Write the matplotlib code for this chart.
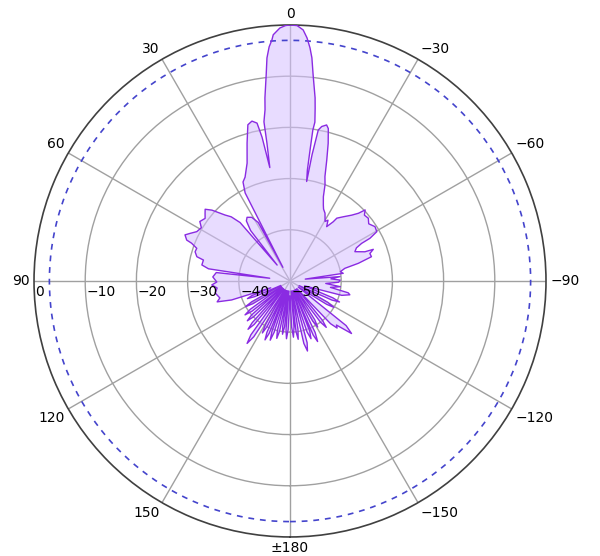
import numpy as np
import matplotlib.pyplot as plt

# measured pattern, angle in degrees (positive = counter-clockwise from top), gain in dB
angle_deg = [
    -180, -178, -176.5, -175, -174, -173.2, -172, -170.6, -169, -167.5, -166,
    -164.5, -163, -161.5, -160, -158.5, -157.5, -156.8, -155.5, -154, -152,
    -150.5, -149, -147.5, -145.5, -143.5, -142, -140.5, -138.5, -136.5, -135,
    -133.5, -130.5, -128.5, -126.5, -122.5, -121, -119.5, -117, -114.5, -113,
    -111.5, -108.5, -105.5, -103,
    -101.5, -99, -96.5, -94, -91.5, -89, -87, -85, -83, -81.8,
    -79.5, -77, -75.5, -73.4, -71, -69.2, -68.7, -65.7, -63.5, -62.3, -61.9,
    -60.4, -57.4, -54, -51.3, -48.5, -46.6, -45.3, -43.1, -39.7, -36.7, -36.1,
    -34, -32, -30.5, -27.3, -25, -23.7, -21.6, -20, -18.5, -16.9, -15.5, -14.1,
    -13.2, -11.6, -10.6, -9.9, -9.5, -8.9, -8.7, -8.6, -8.9, -8.3, -7.8, -6.4,
    -5.6, -4.9, -4.0, -3.0, -1.6, 0, 1, 2.3, 3.9, 4.3, 5.1, 5.9, 6.6, 7.8, 8.3,
    9.3, 9.5, 9.9, 10.1, 11.0, 11.8, 13.4, 15.1, 17.3, 20, 23.4, 25.4, 27.0,
    27.6, 28.5, 31, 34, 36, 38, 39, 40.5, 42.5, 44.6, 47.8, 49.8, 51.5, 53.6,
    56.6, 59, 62.1, 64.5, 66.3, 68.4, 69.0, 70.7, 72.9, 75.4, 76.4, 79.7, 81.5,
    82.3, 83.5, 87, 90.8, 92.9, 95.5, 99.1, 103.6, 106, 108, 109.5, 111, 112.5,
    114, 116, 118.5, 120, 121.5, 123.5, 125.5, 127, 128.5, 130, 131.5, 133,
    134.5, 136, 137.8, 139, 140.5, 142, 144, 145.5, 147, 149, 150.7, 152,
    153.3, 154.7, 155.8, 157, 158.3, 159.3, 160.3, 161.5, 162.8, 164.3, 165.7,
    167, 168.3, 169.8, 170.8, 172, 173.2, 174.3, 175.3, 176.5, 177.8, 180,
]
gain_db = [
    -47, -41, -39, -41, -48, -40, -38.5, -40.5, -48, -37.5, -35.9,
    -37.5, -48, -39.5, -38, -39.5, -48, -38.5, -37, -38.8, -48,
    -41, -39.5, -41, -48, -40, -38.5, -40, -48, -38.5, -37,
    -37.5, -34.2, -36, -48, -41.5, -40, -41.5, -48, -41, -39.5,
    -41, -47, -39.5, -38,
    -38.4, -42, -40.1, -43, -40.5, -40.2, -42, -40.2, -47, -39.5,
    -40, -39, -36.2, -33.4, -33.5, -32.6, -34.3, -36.1, -35.5, -34.2, -32.3,
    -30.5, -30.3, -31, -30.4, -30.6, -29.8, -31.2, -32.4, -33.7, -34.7, -35.7,
    -37.2, -36, -36.5, -35.1, -34.5, -33.8, -32.3, -30, -28.5, -25.3, -22.1, -19.3,
    -18.7, -19.2, -20, -25, -30.3, -28.1, -24.1, -20.2, -18.6, -16, -13.9, -9.5,
    -6.2, -4.3, -2.4, -0.9, -0.1, 0, -0.1, -0.55, -1.8, -2.8, -4.1, -6.2, -9.5, -13.9, -16.2,
    -18.5, -22.7, -26, -27.5, -21.4, -18.5, -17.9, -18.4, -21.8, -25.5, -27.9, -28.6, -30.7,
    -47, -37, -35.5, -35, -35.5, -37.5, -46, -35, -33, -31.9, -29.4, -28.3, -28.8, -29.4,
    -28.9, -29.8, -29.4, -28.4, -27.6, -28.3, -29.4, -30.7, -30.6, -31.2, -32.6, -32.5, -33.9,
    -46, -35.5, -34.9, -35.7, -34.7, -35.7, -35.2, -35.9, -35.2, -38, -46, -42, -41,
    -42.5, -48, -41.5, -40, -41.5, -48, -40.5, -39, -40.5, -48, -40, -38.6,
    -40, -48, -39, -37.5, -39, -48, -37, -35.2, -37, -48, -40, -38.5,
    -40, -48, -39, -37.5, -39, -48, -39.5, -37.8, -39.5, -48, -40,
    -38.5, -40, -48, -41, -39.5, -41, -48, -40.5, -38.7, -40.5, -47,
]

tick_angles = [0, -30, -60, -90, -120, -150, 180, 150, 120, 90, 60, 30]
tick_labels = ["0", "\u221230", "\u221260", "\u221290", "\u2212120", "\u2212150",
               "\u00b1180", "150", "120", "90", "60", "30"]
ring_values = [0, -10, -20, -30, -40, -50]
ring_labels = ["0", "\u221210", "\u221220", "\u221230", "\u221240", "\u221250"]
half_power = -3

fig = plt.figure(figsize=(6, 5.56), dpi=100)
ax = fig.add_axes([0.0567, 0.0342, 0.8533, 0.9209], projection="polar")
ax.set_theta_zero_location("N")
ax.set_theta_direction(1)

theta = np.deg2rad(angle_deg)
ax.fill(theta, gain_db, facecolor="#d6c0ff", alpha=0.55, edgecolor="none", zorder=2)
ax.plot(theta, gain_db, color="#8a2be2", lw=1.0, zorder=4)

circle = np.linspace(-np.pi, np.pi, 361)
ax.plot(circle, np.full_like(circle, half_power), color="#4444cc",
        lw=1.2, linestyle=(0, (3.5, 3.5)), zorder=3)

ax.set_xlim(-np.pi, np.pi)
ax.set_rlim(-50, 0)

ax.set_xticks(np.deg2rad(tick_angles))
ax.set_xticklabels([])
ax.set_yticks([-40, -30, -20, -10])
ax.set_yticklabels([])
ax.grid(True, color="#a0a0a0", lw=1.0)
ax.spines["polar"].set_color("#404040")
ax.spines["polar"].set_linewidth(1.2)

for ang, lab in zip(tick_angles, tick_labels):
    x = -np.sin(np.deg2rad(ang))
    y = np.cos(np.deg2rad(ang))
    ha = "center" if abs(x) < 0.01 else ("left" if x > 0 else "right")
    va = "center" if abs(y) < 0.01 else ("bottom" if y > 0 else "top")
    ax.annotate(lab, xy=(np.deg2rad(ang), 0), xytext=(x * 3, y * 3),
                textcoords="offset points", ha=ha, va=va, fontsize=10,
                annotation_clip=False)

for r, lab in zip(ring_values, ring_labels):
    ax.annotate(lab, xy=(np.pi / 2, r), xytext=(1, -3),
                textcoords="offset points", ha="left", va="top", fontsize=10,
                annotation_clip=False, zorder=5)

plt.savefig("out.png", dpi=100)
